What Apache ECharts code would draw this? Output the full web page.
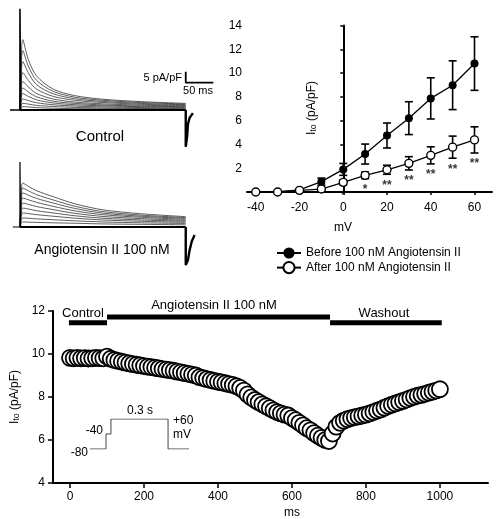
<!DOCTYPE html>
<html>
<head>
<meta charset="utf-8">
<script src="https://cdn.jsdelivr.net/npm/echarts@6/dist/echarts.min.js"></script>
<style>
  html, body { margin: 0; padding: 0; background: #fff; }
  #chart { width: 497px; height: 519px; }
</style>
</head>
<body>
<div id="chart"></div>
<script>
// ---- current traces (top left), pA/pF vs ms ----
const traceT = [0, 2, 5, 15, 30, 60, 100, 150, 220, 300];
const controlTraces = [
  [0, 20, 32, 23, 15.5, 9.5, 6.5, 4.9, 3.8, 3.0],
  [0, 17, 27, 20, 13.5, 8.5, 5.8, 4.4, 3.4, 2.7],
  [0, 14, 22, 17, 11.5, 7.4, 5.1, 3.9, 3.0, 2.4],
  [0, 11, 17, 13.5, 9.5, 6.2, 4.4, 3.4, 2.6, 2.1],
  [0, 8.5, 13, 10.5, 7.5, 5.0, 3.6, 2.8, 2.2, 1.8],
  [0, 6.5, 10, 8.2, 6.0, 4.0, 3.0, 2.3, 1.8, 1.5],
  [0, 5, 7.5, 6.2, 4.6, 3.2, 2.4, 1.9, 1.5, 1.2],
  [0, 3.3, 5, 4.3, 3.3, 2.4, 1.8, 1.4, 1.1, 0.9],
  [0, 2, 3, 2.7, 2.1, 1.6, 1.2, 0.9, 0.7, 0.6],
  [0, 1, 1.5, 1.4, 1.1, 0.8, 0.6, 0.5, 0.4, 0.3],
  [0, 0, 0, 0, 0, 0, 0, 0, 0, 0]
];
const angTraces = [
  [0, 13, 20, 18.5, 16.5, 13.8, 10.5, 7.8, 6.0, 4.7],
  [0, 11.5, 17.7, 16.5, 14.7, 12.3, 9.4, 7.0, 5.4, 4.3],
  [0, 10, 15.5, 14.5, 13.0, 10.9, 8.4, 6.3, 4.9, 3.9],
  [0, 8.5, 13.2, 12.4, 11.2, 9.4, 7.3, 5.6, 4.4, 3.5],
  [0, 7, 10.9, 10.3, 9.3, 7.9, 6.2, 4.8, 3.8, 3.0],
  [0, 5.5, 8.6, 8.2, 7.4, 6.4, 5.1, 4.0, 3.2, 2.6],
  [0, 4, 6.4, 6.1, 5.6, 4.9, 4.0, 3.2, 2.6, 2.1],
  [0, 2.6, 4.1, 4.0, 3.7, 3.3, 2.8, 2.3, 1.9, 1.6],
  [0, 1.5, 2.3, 2.2, 2.1, 1.9, 1.7, 1.4, 1.2, 1.0],
  [0, 0, 0, 0, 0, 0, 0, 0, 0, 0]
];
const controlSpike = [[-18, 0], [0, 0], [0, 46], [1.2, 0]];
const angSpike = [[-13, 0], [0, 0], [0, 29.5], [1.2, 0]];
const controlTail = [[300, 0], [300, -16.7], [301.5, -16.5], [302.5, -12], [304, -6.5], [307, -3.5], [313, -1.4]];
const angTail = [[300, 0], [300, -17.3], [302, -17], [304, -15], [307, -10.5], [311, -6.5], [316, -3.6]];
const scaleBar = [[300, 17.4], [300, 12.4], [350, 12.4]];

// ---- I-V relation (top right) ----
const ivVolt = [-40, -30, -20, -10, 0, 10, 20, 30, 40, 50, 60];
const beforeMean = [0, 0, 0.17, 0.87, 1.9, 3.19, 4.75, 6.21, 7.87, 8.98, 10.8];
const beforeSem = [0, 0, 0.1, 0.3, 0.5, 0.84, 1.05, 1.38, 1.73, 2.05, 2.25];
const afterMean = [0, 0, 0.14, 0.25, 0.81, 1.4, 1.87, 2.41, 3.08, 3.77, 4.38];
const afterSem = [0, 0, 0, 0.1, 0.2, 0.28, 0.38, 0.56, 0.72, 0.93, 1.1];
const starVolt = [0, 10, 20, 30, 40, 50, 60];
const starText = ['*', '*', '**', '**', '**', '**', '**'];
const ivTicks = [-40, -20, 0, 20, 40, 60];

// ---- time course (bottom) ----
const timeMs = [0, 10, 20, 30, 40, 50, 60, 70, 80, 90,
  100, 110, 120, 130, 140, 150, 160, 170, 180, 190,
  200, 210, 220, 230, 240, 250, 260, 270, 280, 290,
  300, 310, 320, 330, 340, 350, 360, 370, 380, 390,
  400, 410, 420, 430, 440, 450, 460, 470, 480, 490,
  500, 510, 520, 530, 540, 550, 560, 570, 580, 590,
  600, 610, 620, 630, 640, 650, 660, 670, 680, 690,
  700, 710, 720, 730, 740, 750, 760, 770, 780, 790,
  800, 810, 820, 830, 840, 850, 860, 870, 880, 890,
  900, 910, 920, 930, 940, 950, 960, 970, 980, 990, 1000];
const itoValues = [9.82, 9.80, 9.82, 9.80, 9.81, 9.79, 9.80, 9.82, 9.81, 9.80,
  9.88, 9.78, 9.72, 9.68, 9.64, 9.60, 9.56, 9.53, 9.50, 9.47,
  9.44, 9.41, 9.39, 9.36, 9.33, 9.30, 9.27, 9.25, 9.22, 9.18,
  9.15, 9.11, 9.08, 9.04, 9.00, 8.92, 8.88, 8.83, 8.79, 8.75,
  8.71, 8.68, 8.64, 8.60, 8.56, 8.50, 8.42, 8.30, 8.12, 7.98,
  7.86, 7.76, 7.66, 7.57, 7.48, 7.38, 7.30, 7.24, 7.18, 7.14,
  7.02, 6.92, 6.80, 6.68, 6.55, 6.45, 6.32, 6.20, 6.10, 6.00,
  5.95, 6.30, 6.62, 6.80, 6.90, 6.97, 7.02, 7.06, 7.10, 7.14,
  7.18, 7.24, 7.30, 7.36, 7.42, 7.50, 7.58, 7.64, 7.70, 7.76,
  7.82, 7.88, 7.95, 8.01, 8.06, 8.10, 8.15, 8.20, 8.25, 8.30, 8.36];
const timeTicks = [0, 200, 400, 600, 800, 1000];
const controlBar = [[-3, 11.45], [100, 11.45]];
const angBar = [[100, 11.72], [703, 11.72]];
const washBar = [[703, 11.45], [1005, 11.45]];

// ---- voltage protocol inset ----
const protoLevels = ['-80', '-40', '+60'];
const protoT = [0, 84, 84, 110, 110, 410, 410, 520];
const protoV = ['-80', '-80', '-40', '-40', '+60', '+60', '-80', '-80'];

const FONT = 'Liberation Sans, Arial, sans-serif';
const chart = echarts.init(document.getElementById('chart'));

function hiddenAxis(min, max, grid) {
  return { type: 'value', gridIndex: grid, min: min, max: max, show: false };
}

function errRender(params, api) {
  const x = api.value(0), lo = api.value(1), hi = api.value(2);
  if (hi - lo < 0.05) return null;
  const a = api.coord([x, hi]), b = api.coord([x, lo]);
  const w = 4;
  const st = { stroke: '#000', lineWidth: 1.6 };
  return {
    type: 'group',
    children: [
      { type: 'line', shape: { x1: a[0], y1: a[1], x2: b[0], y2: b[1] }, style: st },
      { type: 'line', shape: { x1: a[0] - w, y1: a[1], x2: a[0] + w, y2: a[1] }, style: st },
      { type: 'line', shape: { x1: b[0] - w, y1: b[1], x2: b[0] + w, y2: b[1] }, style: st }
    ]
  };
}

function traceSeries(list, axis) {
  return list.map(function (tr, k) {
    return {
      type: 'line', xAxisIndex: axis, yAxisIndex: axis,
      data: traceT.map(function (t, i) { return [t, tr[i]]; }),
      smooth: 0.3, showSymbol: false, silent: true,
      lineStyle: { color: k === list.length - 1 ? '#000' : '#333', width: k === list.length - 1 ? 1.8 : 0.8 }
    };
  });
}

function plainLine(data, axis, width) {
  return {
    type: 'line', xAxisIndex: axis, yAxisIndex: axis, data: data,
    showSymbol: false, silent: true, lineStyle: { color: '#000', width: width }
  };
}

const richIto = {
  a: { fontSize: 12, fontFamily: FONT, fill: '#000', color: '#000' },
  s: { fontSize: 9, fontFamily: FONT, fill: '#000', color: '#000', verticalAlign: 'bottom' }
};

function txt(x, y, text, size, align) {
  return { type: 'text', x: x, y: y, style: { text: text, fontSize: size, fontFamily: FONT, fill: '#000', align: align || 'center', verticalAlign: 'middle' } };
}

const option = {
  animation: false,
  backgroundColor: '#fff',
  textStyle: { fontFamily: FONT, color: '#000' },
  grid: [
    { left: 8.9, top: 0, width: 210, height: 154, outerBoundsMode: 'none' },
    { left: 8.9, top: 117, width: 210, height: 154, outerBoundsMode: 'none' },
    { left: 247, top: 25.5, width: 245, height: 166.5, outerBoundsMode: 'none' },
    { left: 53, top: 311, width: 435, height: 172, outerBoundsMode: 'none' },
    { left: 90, top: 419, width: 99, height: 30, outerBoundsMode: 'none' }
  ],
  xAxis: [
    hiddenAxis(-20, 360, 0),
    hiddenAxis(-20, 360, 1),
    {
      type: 'value', gridIndex: 2, min: -44, max: 68,
      splitLine: { show: false },
      axisLine: { lineStyle: { color: '#000', width: 2 } },
      axisTick: { customValues: ivTicks, length: 3, lineStyle: { color: '#000', width: 1.5 } },
      axisLabel: { customValues: ivTicks, margin: 10, fontSize: 12, color: '#000', fontFamily: FONT }
    },
    {
      type: 'value', gridIndex: 3, min: -46, max: 1130,
      splitLine: { show: false },
      axisLine: { onZero: false, lineStyle: { color: '#000', width: 2 } },
      axisTick: { customValues: timeTicks, length: 5, lineStyle: { color: '#000', width: 1.5 } },
      axisLabel: { customValues: timeTicks, margin: 8, fontSize: 12, color: '#000', fontFamily: FONT,
        formatter: function (v) { return String(v); } }
    },
    hiddenAxis(0, 520, 4)
  ],
  yAxis: [
    hiddenAxis(-20, 50, 0),
    hiddenAxis(-20, 50, 1),
    {
      type: 'value', gridIndex: 2, min: 0, max: 14, interval: 2,
      splitLine: { show: false },
      axisLine: { onZero: true, lineStyle: { color: '#000', width: 2 } },
      axisTick: { length: 3, lineStyle: { color: '#000', width: 1.5 } },
      axisLabel: { margin: 5, fontSize: 12, color: '#000', fontFamily: FONT,
        formatter: function (v) { return v === 0 ? '' : String(v); } }
    },
    {
      type: 'value', gridIndex: 3, min: 4, max: 12, interval: 2,
      splitLine: { show: false },
      axisLine: { onZero: false, lineStyle: { color: '#000', width: 2 } },
      axisTick: { length: 5, lineStyle: { color: '#000', width: 1.5 } },
      axisLabel: { margin: 8, fontSize: 12, color: '#000', fontFamily: FONT },
      name: '{a|I}{s|to}{a| (pA/pF)}', nameLocation: 'middle', nameRotate: 90, nameGap: 31,
      nameTextStyle: { rich: richIto }
    },
    { type: 'category', gridIndex: 4, data: protoLevels, boundaryGap: false, show: false }
  ],
  legend: {
    data: ['Before 100 nM Angiotensin II', 'After 100 nM Angiotensin II'],
    orient: 'vertical', left: 271, top: 242,
    itemWidth: 24, itemHeight: 14, itemGap: 2,
    textStyle: { fontSize: 12, color: '#000', fontFamily: FONT }
  },
  graphic: [
    txt(100, 137, 'Control', 15),
    txt(102, 250, 'Angiotensin II 100 nM', 14),
    txt(182, 78, '5 pA/pF', 11, 'right'),
    txt(198, 91, '50 ms', 11),
    txt(343, 228, 'mV', 12),
    {
      type: 'text', x: 312, y: 108, rotation: Math.PI / 2,
      style: { text: '{a|I}{s|to}{a| (pA/pF)}', rich: richIto, fontFamily: FONT, fill: '#000', align: 'center', verticalAlign: 'middle' }
    },
    txt(83, 313, 'Control', 13),
    txt(214, 305, 'Angiotensin II 100 nM', 13),
    txt(384, 313, 'Washout', 13),
    txt(292, 513, 'ms', 12),
    txt(88, 453, '-80', 12, 'right'),
    txt(103, 431, '-40', 12, 'right'),
    txt(140, 411, '0.3 s', 12),
    txt(173, 421, '+60', 12, 'left'),
    txt(173, 435, 'mV', 12, 'left')
  ],
  series: [].concat(
    traceSeries(controlTraces, 0),
    [plainLine(controlSpike, 0, 1.6), plainLine(controlTail, 0, 2.4), plainLine(scaleBar, 0, 1.8)],
    traceSeries(angTraces, 1),
    [plainLine(angSpike, 1, 1.2), plainLine(angTail, 1, 2.4)],
    [
      {
        type: 'custom', xAxisIndex: 2, yAxisIndex: 2, renderItem: errRender, silent: true,
        data: ivVolt.map(function (v, i) { return [v, beforeMean[i] - beforeSem[i], beforeMean[i] + beforeSem[i]]; })
      },
      {
        name: 'Before 100 nM Angiotensin II', type: 'line', xAxisIndex: 2, yAxisIndex: 2,
        data: ivVolt.map(function (v, i) { return [v, beforeMean[i]]; }),
        symbol: 'circle', symbolSize: 8,
        itemStyle: { color: '#000' }, lineStyle: { color: '#000', width: 1.3 }
      },
      {
        type: 'custom', xAxisIndex: 2, yAxisIndex: 2, renderItem: errRender, silent: true,
        data: ivVolt.map(function (v, i) { return [v, afterMean[i] - afterSem[i], afterMean[i] + afterSem[i]]; })
      },
      {
        name: 'After 100 nM Angiotensin II', type: 'line', xAxisIndex: 2, yAxisIndex: 2,
        data: ivVolt.map(function (v, i) { return [v, afterMean[i]]; }),
        symbol: 'circle', symbolSize: 8,
        itemStyle: { color: '#fff', borderColor: '#000', borderWidth: 1.4 },
        lineStyle: { color: '#000', width: 1.3 }
      },
      {
        type: 'scatter', xAxisIndex: 2, yAxisIndex: 2, symbolSize: 0, silent: true,
        data: starVolt.map(function (v, k) {
          const i = ivVolt.indexOf(v);
          return { value: [v, afterMean[i] - afterSem[i]], name: starText[k] };
        }),
        label: {
          show: true, position: 'inside', offset: [0, 11],
          formatter: function (p) { return p.name; },
          fontSize: 12, fontWeight: 'bold', color: '#000', fontFamily: FONT
        }
      }
    ],
    [
      plainLine(controlBar, 3, 5),
      plainLine(angBar, 3, 5),
      plainLine(washBar, 3, 5),
      {
        type: 'scatter', xAxisIndex: 3, yAxisIndex: 3,
        data: timeMs.map(function (t, i) { return [t, itoValues[i]]; }),
        symbol: 'circle', symbolSize: 16,
        itemStyle: { color: '#fff', borderColor: '#000', borderWidth: 1.8, opacity: 1 }
      },
      {
        type: 'line', xAxisIndex: 4, yAxisIndex: 4,
        data: protoT.map(function (t, i) { return [t, protoV[i]]; }),
        showSymbol: false, silent: true, lineStyle: { color: '#444', width: 1 }
      }
    ]
  )
};

chart.setOption(option);
</script>
</body>
</html>
